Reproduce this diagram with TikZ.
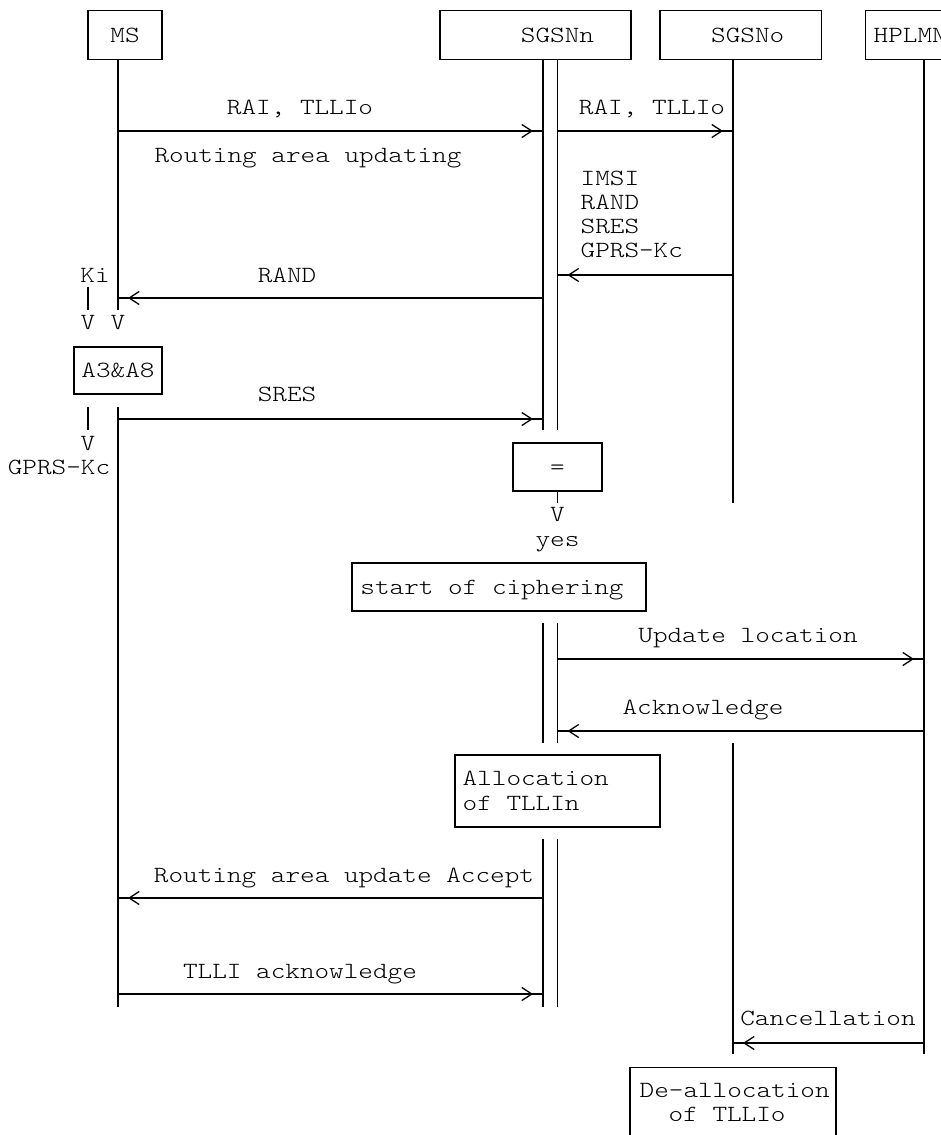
\documentclass[tikz,border=0pt]{standalone}
\usepackage{fontspec}
\newfontfamily\monof[FakeStretch=1.2]{Latin Modern Mono Light}
\usetikzlibrary{arrows.meta,decorations.markings}
\begin{document}
\begin{tikzpicture}[x=1pt,y=-1pt,line width=1.3pt,
  txt/.style={font=\monof\fontsize{23.2}{24}\selectfont,inner sep=0pt,text height=15pt,text depth=1pt},
  box/.style={draw,line width=1.3pt,inner sep=0pt,font=\monof\fontsize{23.2}{24}\selectfont,text height=15pt,text depth=1pt},
  msg/.style={postaction={decorate},decoration={markings,mark=at position -10pt with {\arrow{Straight Barb[length=10pt,width=13pt]}}}}]
\useasboundingbox (0,0) rectangle (941,1135);
\clip (0,0) rectangle (941,1135);
% lifeline x positions
\coordinate (msx) at (118,0);
\coordinate (nl) at (543,0);
\coordinate (nr) at (557.5,0);
\coordinate (ox) at (733,0);
\coordinate (hx) at (924,0);
% entity boxes
\node[box,minimum width=74pt,minimum height=48.5pt] (MS) at (125,35) {MS};
\node[box,minimum width=191pt,minimum height=48.5pt] (SGSNn) at (535.5,35) {\hspace*{44pt}SGSNn};
\node[box,minimum width=161.5pt,minimum height=48.5pt] (SGSNo) at (740.75,35) {\hspace*{14pt}SGSNo};
\node[box,minimum width=110pt,minimum height=48.5pt,anchor=west,inner xsep=8pt,align=left] (HPLMN) at (865,35) {HPLMN\hspace*{30pt}};
% lifelines
\draw (msx |- MS.south) -- (msx |- 0,310);
\draw (msx |- 0,407) -- (msx |- 0,1007);
\draw (nl |- SGSNn.south) -- (nl |- 0,430);
\draw (nr |- SGSNn.south) -- (nr |- 0,430);
\draw (nl |- 0,623) -- (nl |- 0,743);
\draw (nr |- 0,623) -- (nr |- 0,743);
\draw (nl |- 0,839) -- (nl |- 0,1007);
\draw (nr |- 0,839) -- (nr |- 0,1007);
\draw (ox |- SGSNo.south) -- (ox |- 0,503);
\draw (ox |- 0,743) -- (ox |- 0,1054);
\draw (hx |- HPLMN.south) -- (hx |- 0,1054);
% messages
\node[txt] (m1) at (300,107) {RAI, TLLIo};
\draw[msg] (msx |- 0,131) -- (nl |- 0,131);
\node[txt] (m1b) at (308,155) {Routing area updating};
\node[txt] (m2) at (652,107) {RAI, TLLIo};
\draw[msg] (nr |- 0,131) -- (ox |- 0,131);
\node[txt,anchor=west] (p1) at (580,178) {IMSI};
\node[txt,anchor=west] (p2) at (580,202) {RAND};
\node[txt,anchor=west] (p3) at (580,226) {SRES};
\node[txt,anchor=west] (p4) at (580,250) {GPRS-Kc};
\draw[msg] (ox |- 0,275) -- (nr |- 0,275);
\node[txt] (m3) at (287,275) {RAND};
\draw[msg] (nl |- 0,298) -- (msx |- 0,298);
% Ki
\node[txt] (ki) at (95,275) {Ki};
\coordinate (kit) at (88,287);
\coordinate (kib) at (88,310);
\draw (kit) -- (kib);
\node[txt] (kv) at (88,322) {V};
\node[txt] (msv) at (118,322) {V};
% A3&A8
\node[box,minimum width=88pt,minimum height=47pt] (A38) at (118,370.5) {A3\&A8};
\coordinate (at) at (88,407);
\coordinate (ab) at (88,430);
\draw (at) -- (ab);
\node[txt] (av) at (88,443) {V};
\node[txt] (kc) at (59,467) {GPRS-Kc};
% SRES
\node[txt] (m4) at (287,394) {SRES};
\draw[msg] (msx |- 0,419) -- (nl |- 0,419);
% compare
\node[box,minimum width=89pt,minimum height=48pt] (eq) at (557.5,467) {=};
\coordinate (eqb) at (557.5,503);
\draw (eq.south) -- (eqb);
\node[txt] (eqv) at (557.5,514) {V};
\node[txt] (yes) at (557.5,539) {yes};
\node[box,minimum width=294pt,minimum height=48pt] (cipher) at (499,587) {\hspace*{-14pt}start of ciphering};
% update location
\node[txt] (m5) at (748,635) {Update location};
\draw[msg] (nr |- 0,659) -- (hx |- 0,659);
\node[txt] (m6) at (703,707) {Acknowledge};
\draw[msg] (hx |- 0,731) -- (nr |- 0,731);
% allocation
\node[box,minimum width=205pt,minimum height=72pt] (alloc) at (557.5,791) {};
\node[txt,anchor=west] (al1) at (462,778) {Allocation};
\node[txt,anchor=west] (al2) at (462,803) {of TLLIn};
% accept
\node[txt] (m7) at (344,875) {Routing area update Accept};
\draw[msg] (nl |- 0,898) -- (msx |- 0,898);
\node[txt] (m8) at (300,971) {TLLI acknowledge};
\draw[msg] (msx |- 0,994) -- (nl |- 0,994);
% cancellation
\node[txt] (m9) at (828,1018) {Cancellation};
\draw[msg] (hx |- 0,1043) -- (ox |- 0,1043);
\node[box,minimum width=206pt,minimum height=100pt,anchor=north] (dealloc) at (733,1067) {};
\node[txt,anchor=west] (dl1) at (639,1090) {De-allocation};
\node[txt,anchor=west] (dl2) at (668,1114) {of TLLIo};
\end{tikzpicture}
\end{document}
